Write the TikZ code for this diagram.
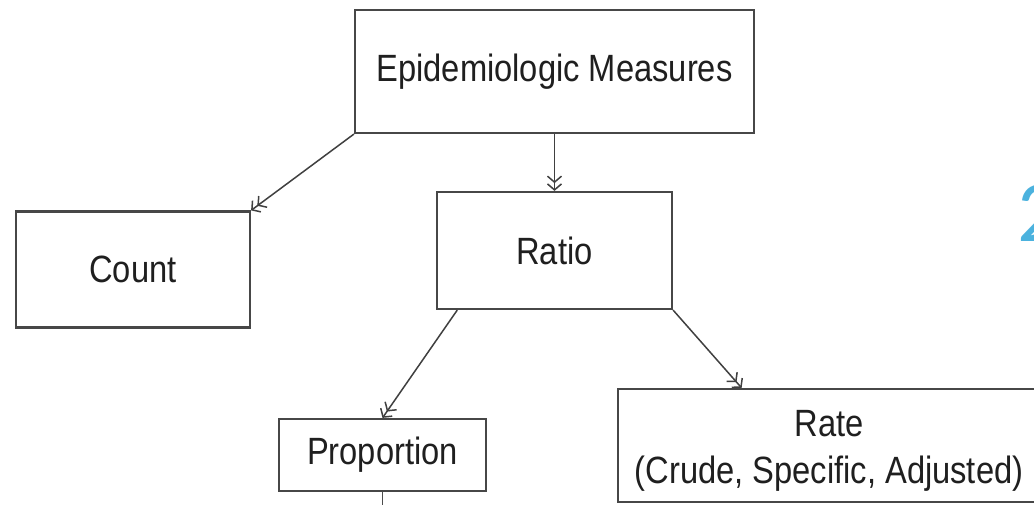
\documentclass[tikz,border=0pt]{standalone}
\usepackage{fontspec}
\setmainfont{Liberation Sans}
\newfontfamily\boxfont[FakeStretch=0.86]{Liberation Sans}
\newfontfamily\slidefont{Carlito}
\usetikzlibrary{arrows.meta,calc}
\definecolor{slidecyan}{RGB}{75,178,222}

\begin{document}
\begin{tikzpicture}[x=1pt,y=1pt,
  box/.style={draw=black!72, line width=2.2pt, rectangle, inner sep=0pt,
    font=\boxfont\fontsize{38}{47}\selectfont, align=center, text=black!88},
  label text/.style={inner sep=0pt, font=\boxfont\fontsize{38}{47}\selectfont,
    align=center, text=black!88},
  link/.style={draw=black!75, line width=1.5pt,
    -{Straight Barb[length=6pt,width=14pt,line width=1.5pt]Straight Barb[length=6pt,width=14pt,line width=1.5pt]}},
  plain/.style={draw=black!70, line width=1.8pt},
]
\useasboundingbox (0,0) rectangle (1034,-505);
\fill[white] (0,0) rectangle (1034,-505);

% classification boxes
\node[box, minimum width=399pt, minimum height=123pt] (epi) at (554.5,-71.5) {Epidemiologic Measures};
\node[box, minimum width=234pt, minimum height=116pt] (count) at (133,-269.5) {Count};
\node[box, minimum width=235pt, minimum height=117pt] (ratio) at (554.5,-250.5) {Ratio};
\node[box, minimum width=207pt, minimum height=72pt] (prop) at (382.5,-455) {Proportion};
\node[box, minimum width=422pt, minimum height=113pt] (rate) at (829,-445.5) {};
\node[label text] (ratetext) at ($(rate.center)+(0,-5)$) {Rate\\(Crude, Specific, Adjusted)};

% slide number, partly off the page
\node[font=\slidefont\fontsize{87}{90}\selectfont, text=slidecyan, anchor=base west, inner sep=0pt] (num) at (1017,-242) {2};

% connectors
\coordinate (propend) at (382.5,-515);
\draw[link] (epi.south west) -- (count.north east);
\draw[link] (epi.south) -- (ratio.north);
\draw[link] ($(ratio.south west)!0.09!(ratio.south east)$) -- (prop.north);
\draw[link] (ratio.south east) -- ($(rate.north west)!0.294!(rate.north east)$);
\draw[plain] (prop.south) -- (propend);
\end{tikzpicture}
\end{document}
